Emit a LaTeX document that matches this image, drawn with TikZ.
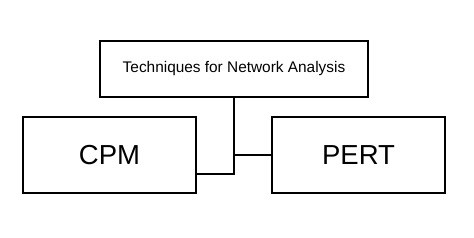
\documentclass[tikz,border=0pt]{standalone}
\usepackage{fontspec}
\setmainfont{Liberation Sans}
\usetikzlibrary{positioning}

\begin{document}
\begin{tikzpicture}[
  x=1pt, y=-1pt,
  box/.style={draw, line width=1.6pt, minimum width=173pt, minimum height=76pt,
              align=center, inner sep=0pt, font=\fontsize{27.5}{30}\selectfont},
  head/.style={draw, line width=1.6pt, minimum width=268pt, minimum height=56pt,
               align=center, inner sep=0pt, font=\fontsize{15.4}{18}\selectfont},
  link/.style={line width=1.6pt}
]
\useasboundingbox (0,0) rectangle (474,238);
\node[head] (tech) at (234,69) {Techniques for Network Analysis};
\node[box] (cpm)  at (109.5,155) {CPM};
\node[box] (pert) at (358.5,155) {PERT};

\coordinate (jl) at (234,174);
\draw[link] (tech.south) -- (jl) -- (cpm.east |- jl);
\draw[link] (tech.south |- pert.west) -- (pert.west);
\end{tikzpicture}
\end{document}
